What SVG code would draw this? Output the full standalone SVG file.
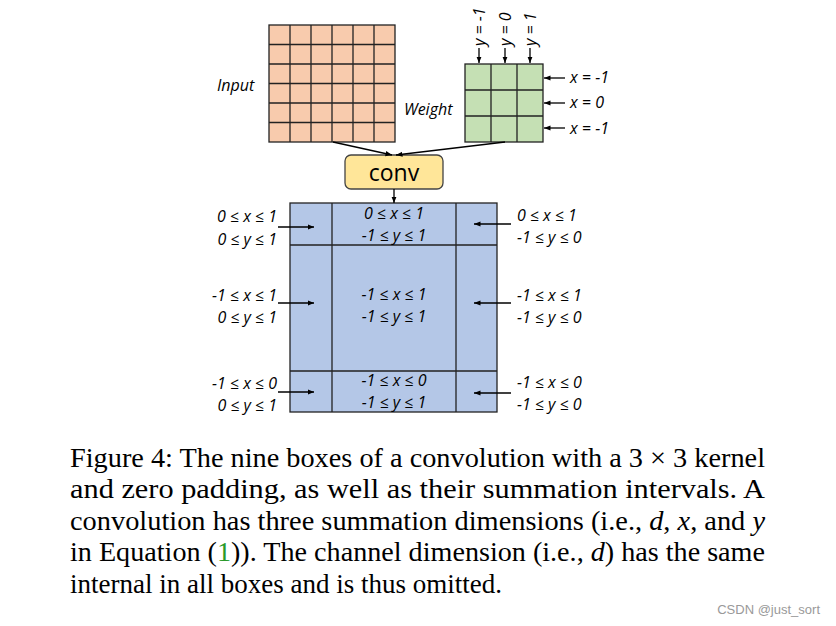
<svg xmlns="http://www.w3.org/2000/svg" width="836" height="626" viewBox="0 0 836 626">
<defs>
<marker id="a" viewBox="0 0 10 10" refX="10" refY="5" markerWidth="5" markerHeight="5" orient="auto"><path d="M0,1 L10,5 L0,9 z" fill="#000"/></marker>
</defs>
<style>
.g{stroke:#222;stroke-width:1.3}
.t{font-family:"Open Sans","Liberation Sans",sans-serif;font-style:italic;font-size:16px;fill:#000}
.c{stroke:#000;stroke-width:1.3;fill:none;marker-end:url(#a)}
.cap{font-family:"Liberation Serif",serif;font-size:27px;fill:#000}
</style>
<rect width="836" height="626" fill="#fff"/>
<g id="input">
<rect x="269" y="25" width="126" height="117" fill="#f8cbad" class="g"/>
<path class="g" d="M290,25V142M311,25V142M332,25V142M353,25V142M374,25V142M269,44.5H395M269,64H395M269,83.5H395M269,103H395M269,122.5H395"/>
<text class="t" x="217" y="91" font-size="17">Input</text>
</g>
<g id="weight">
<rect x="465" y="64" width="78" height="78" fill="#c5e0b4" class="g"/>
<path class="g" d="M491,64V142M517,64V142M465,90H543M465,116H543"/>
<text class="t" x="404" y="115" font-size="17">Weight</text>
<text class="t" transform="translate(485,46) rotate(-90)">y = -1</text>
<text class="t" transform="translate(511,46) rotate(-90)">y = 0</text>
<text class="t" transform="translate(536,46) rotate(-90)">y = 1</text>
<text class="t" x="570" y="83">x = -1</text>
<text class="t" x="570" y="108">x = 0</text>
<text class="t" x="570" y="134">x = -1</text>
</g>
<g id="conv">
<rect x="345" y="155" width="98" height="34" rx="6" fill="#ffe699" stroke="#444" stroke-width="1.3"/>
<text x="394" y="181" text-anchor="middle" font-family="Open Sans,Liberation Sans,sans-serif" font-size="23">conv</text>
</g>
<g id="output">
<rect x="290" y="203" width="207" height="209" fill="#b4c7e7" class="g"/>
<path class="g" d="M332,203V412M456,203V412M290,245H497M290,371H497"/>
<g class="t" text-anchor="middle">
<text x="394" y="219">0 ≤ x ≤ 1</text><text x="394" y="241">-1 ≤ y ≤ 1</text>
<text x="394" y="300">-1 ≤ x ≤ 1</text><text x="394" y="322">-1 ≤ y ≤ 1</text>
<text x="394" y="386">-1 ≤ x ≤ 0</text><text x="394" y="408">-1 ≤ y ≤ 1</text>
</g>
<g class="t" text-anchor="end">
<text x="277" y="222">0 ≤ x ≤ 1</text><text x="277" y="245">0 ≤ y ≤ 1</text>
<text x="277" y="301">-1 ≤ x ≤ 1</text><text x="277" y="323">0 ≤ y ≤ 1</text>
<text x="277" y="389">-1 ≤ x ≤ 0</text><text x="277" y="411">0 ≤ y ≤ 1</text>
</g>
<g class="t">
<text x="517" y="221">0 ≤ x ≤ 1</text><text x="517" y="243">-1 ≤ y ≤ 0</text>
<text x="517" y="301">-1 ≤ x ≤ 1</text><text x="517" y="323">-1 ≤ y ≤ 0</text>
<text x="517" y="388">-1 ≤ x ≤ 0</text><text x="517" y="410">-1 ≤ y ≤ 0</text>
</g>
</g>
<g id="connectors">
<path class="c" d="M479,48V63"/><path class="c" d="M505,48V63"/><path class="c" d="M530,48V63"/>
<path class="c" d="M565,78H544"/><path class="c" d="M565,103H544"/><path class="c" d="M565,128H544"/>
<path class="c" d="M333,142L392,155"/><path class="c" d="M505,142L396,155"/>
<path class="c" d="M394,189V203"/>
<path class="c" d="M278,227H314"/><path class="c" d="M278,303H314"/><path class="c" d="M278,392H314"/>
<path class="c" d="M511,224H474"/><path class="c" d="M511,303H474"/><path class="c" d="M511,393H474"/>
</g>
<g id="caption" class="cap">
<text x="70" y="467" textLength="695" lengthAdjust="spacingAndGlyphs">Figure 4: The nine boxes of a convolution with a 3 × 3 kernel</text>
<text x="70" y="498" textLength="695" lengthAdjust="spacingAndGlyphs">and zero padding, as well as their summation intervals. A</text>
<text x="70" y="530" textLength="695" lengthAdjust="spacingAndGlyphs">convolution has three summation dimensions (i.e., <tspan font-style="italic">d</tspan>, <tspan font-style="italic">x</tspan>, and <tspan font-style="italic">y</tspan></text>
<text x="70" y="561" textLength="695" lengthAdjust="spacingAndGlyphs">in Equation (<tspan fill="#2a9a2a">1</tspan>)). The channel dimension (i.e., <tspan font-style="italic">d</tspan>) has the same</text>
<text x="70" y="593">internal in all boxes and is thus omitted.</text>
</g>
<text x="820" y="614" text-anchor="end" font-family="Liberation Sans,sans-serif" font-size="13" fill="#999">CSDN @just_sort</text>
</svg>
